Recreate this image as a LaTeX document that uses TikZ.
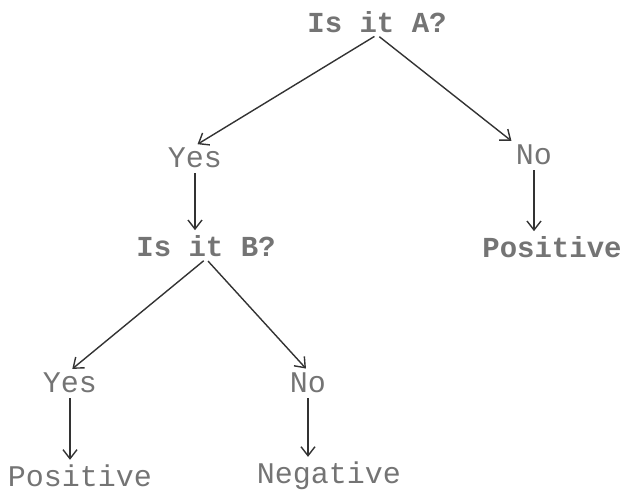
\documentclass[tikz,border=0pt]{standalone}
\usepackage{fontspec}
\setmonofont{Liberation Mono}
\usetikzlibrary{arrows.meta}
\definecolor{inkgray}{HTML}{747474}
\definecolor{linegray}{HTML}{333333}
\tikzset{
  label/.style={font=\ttfamily\fontsize{30}{32}\selectfont, text=inkgray, inner sep=2pt},
  strong/.style={label, font=\ttfamily\bfseries\fontsize{29}{31}\selectfont},
  link/.style={draw=linegray, line width=1.4pt, -{Straight Barb[length=9pt,width=14pt,line width=1.4pt]}, shorten >=3pt, shorten <=3pt}
}
\begin{document}
\begin{tikzpicture}[x=1pt,y=-1pt]
  \useasboundingbox (0,0) rectangle (625,496);
  % question and answer nodes
  \node[strong] (qa)   at (377,22)  {Is it A?};
  \node[label]  (ya)   at (195,158) {Yes};
  \node[label]  (na)   at (534,155) {No};
  \node[strong] (qb)   at (206,246) {Is it B?};
  \node[strong] (pa)   at (552,247) {Positive};
  \node[label]  (yb)   at (70,383)  {Yes};
  \node[label]  (nb)   at (308,383) {No};
  \node[label]  (pb)   at (80,476)  {Positive};
  \node[label]  (ng)   at (329,476) {Negative};
  % tree branches
  \draw[link] (qa.south) -- (ya.north);
  \draw[link] (qa.south) -- (na.north west);
  \draw[link] (ya.south) -- (qb.north -| ya.south);
  \draw[link] (na.south) -- (pa.north -| na.south);
  \draw[link] (qb.south) -- (yb.north);
  \draw[link] (qb.south) -- (nb.north);
  \draw[link] (yb.south) -- (pb.north -| yb.south);
  \draw[link] (nb.south) -- (ng.north -| nb.south);
\end{tikzpicture}
\end{document}
